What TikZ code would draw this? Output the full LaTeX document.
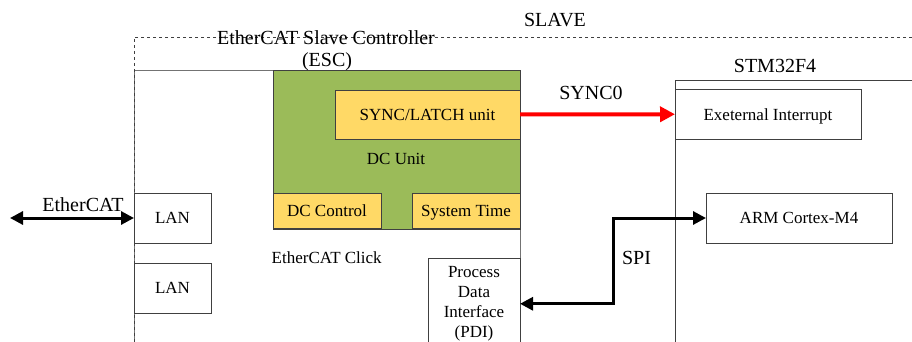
\documentclass[tikz,border=0pt]{standalone}
\usepackage{fontspec}
\setmainfont{Liberation Serif}
\usetikzlibrary{arrows.meta}
\definecolor{dcgreen}{HTML}{9BBB59}
\definecolor{unityellow}{HTML}{FFD966}
\definecolor{edge}{HTML}{404040}
\begin{document}
\begin{tikzpicture}[x=1pt,y=-1pt,
  box/.style={draw=edge, line width=0.8pt, rectangle, inner sep=0pt, outer sep=0pt,
    font=\fontsize{17}{20}\selectfont, text depth=0pt},
  ybox/.style={box, fill=unityellow},
  container/.style={draw=edge, line width=0.8pt, rectangle, inner sep=0pt, outer sep=0pt, anchor=north west},
  lbl/.style={inner sep=0pt, anchor=base, font=\fontsize{17}{20}\selectfont},
  biglbl/.style={inner sep=0pt, anchor=base, font=\fontsize{20}{25}\selectfont},
  blkarrow/.style={line width=3pt, {Triangle[length=13pt,width=13pt]}-{Triangle[length=13pt,width=13pt]}},
  redarrow/.style={draw=red, line width=4pt, -{Triangle[length=15pt,width=15pt]}}]
\clip (0,0) rectangle (912,342);

% containers
\node[container, draw=black!55, minimum width=386pt, minimum height=300pt] (esc) at (134,70) {};
\node[container, dashed, minimum width=800pt, minimum height=330pt] (slave) at (134,37) {};
\node[container, minimum width=300pt, minimum height=300pt] (stm) at (675,80) {};
\node[container, fill=dcgreen, minimum width=247pt, minimum height=159pt] (dcu) at (273,70) {};

% labels
\node[biglbl] (slavelbl) at (555,27) {SLAVE};
\node[biglbl] (esclbla) at (326,44.3) {EtherCAT Slave Controller};
\node[biglbl] (esclblb) at (327,66.5) {(ESC)};
\node[biglbl] (stmlbl) at (775,73) {STM32F4};
\node[biglbl] (synclbl) at (591,99.5) {SYNC0};
\node[biglbl] (ethlbl) at (83,211.7) {EtherCAT};
\node[biglbl] (spilbl) at (636.5,264.3) {SPI};
\node[lbl] (dculbl) at (396,164) {DC Unit};
\node[lbl] (clicklbl) at (326.7,263.3) {EtherCAT Click};

% boxes
\node[ybox, minimum width=185pt, minimum height=49pt] (sync) at (427.5,114.5) {SYNC/LATCH unit};
\node[ybox, minimum width=108pt, minimum height=35pt] (dcc) at (327,210.5) {DC Control};
\node[ybox, minimum width=108pt, minimum height=35pt] (sys) at (466,210.5) {System Time};
\node[box, minimum width=77pt, minimum height=50pt] (lan1) at (172.5,218) {LAN};
\node[box, minimum width=77pt, minimum height=50pt] (lan2) at (172.5,288) {LAN};
\node[box, minimum width=186pt, minimum height=49.5pt] (ei) at (768,114.25) {Exeternal Interrupt};
\node[box, minimum width=186pt, minimum height=50pt] (arm) at (799,218) {ARM Cortex-M4};
\node[box, anchor=north, minimum width=92pt, text depth=, align=center, inner ysep=8.4pt,
  font=\fontsize{17}{20}\selectfont] (pdi) at (474,258) {Process\\Data\\Interface\\(PDI)};

% connectors
\coordinate (ethl) at (10,218);
\draw[blkarrow] (ethl) -- (lan1.west);
\draw[redarrow] (sync.east) -- (ei.west);
\coordinate (spix) at (613,218);
\draw[blkarrow] (arm.west) -| (spix |- pdi.east) -- (pdi.east);
\end{tikzpicture}
\end{document}
